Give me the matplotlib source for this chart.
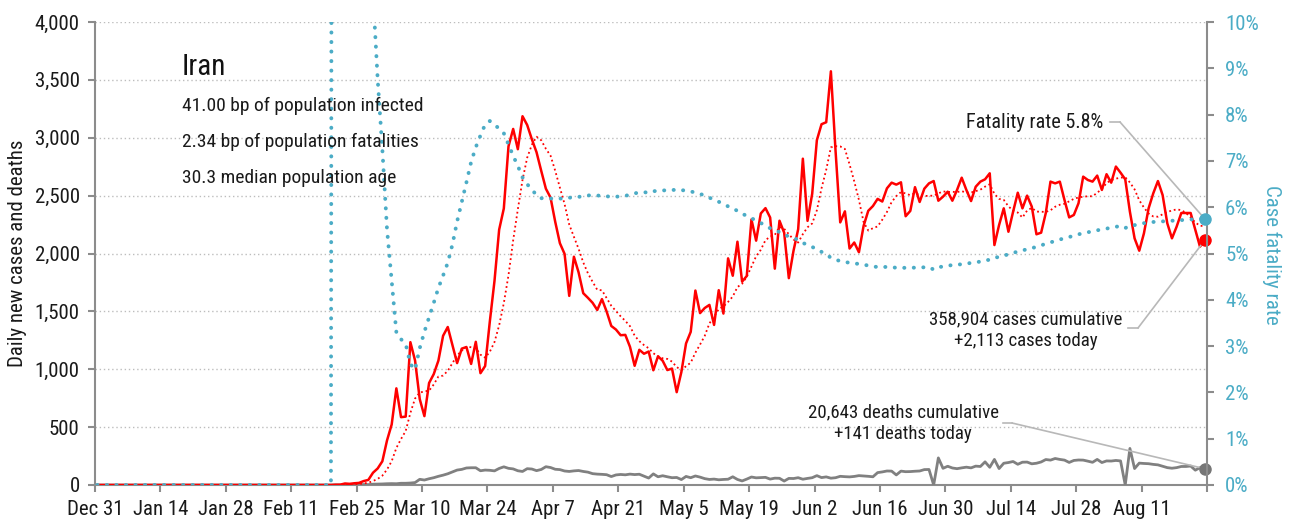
import numpy as np
import pandas as pd
import matplotlib
matplotlib.use('Agg')
import matplotlib.pyplot as plt
from matplotlib import font_manager
from matplotlib.lines import Line2D

# prefer a narrow sans; otherwise use Liberation Sans a little smaller
installed = {(f.name, f.stretch) for f in font_manager.fontManager.ttflist}
names = {n for n, _ in installed}
FONT, SCALE, STRETCH = 'Liberation Sans', 0.84, 'normal'
for cand in ['Roboto Condensed', 'Liberation Sans Narrow', 'Open Sans Condensed']:
    if cand in names:
        FONT, SCALE = cand, 1.0
        break
else:
    for n, st in installed:
        if n in ('DejaVu Sans', 'Noto Sans', 'Open Sans') and st in ('condensed', 'semi-condensed', 75, 87):
            FONT, SCALE, STRETCH = n, 0.97, st
            break
plt.rcParams['font.family'] = [FONT, 'DejaVu Sans']
plt.rcParams['font.stretch'] = STRETCH

# daily reports for Iran, starting from the first reported case
first_report = '2020-02-20'
last_report = '2020-08-24'

daily_cases = [
    2, 3, 13, 10, 15, 18, 34, 44, 106, 143, 205,
    385, 523, 835, 586, 591, 1234, 1076, 743, 595, 881, 958, 1075, 1289, 1365, 1209,
    1053, 1178, 1192, 1046, 1237, 966, 1028, 1411, 1762, 2206, 2389, 2926, 3076, 2901,
    3186, 3110,
    2987, 2875, 2715, 2560, 2483, 2274, 2089, 1997, 1634, 1972, 1837, 1657, 1617, 1574,
    1512, 1606, 1499, 1374, 1343, 1294, 1297, 1194, 1030, 1168, 1134, 1153, 991, 1112,
    1073, 993,
    1006, 802, 976, 1223, 1323, 1680, 1485, 1529, 1556, 1383, 1683, 1481, 1958, 1808,
    2102, 1757, 1806, 2294, 2111, 2346, 2392, 2311, 1869, 2283, 2180, 1787, 2023, 2210,
    2819, 2282, 2516,
    2979, 3117, 3134, 3574,
    2886, 2269, 2364, 2043, 2095, 2011, 2238, 2369, 2410, 2472,
    2449, 2563, 2612, 2595, 2615, 2322, 2368, 2573, 2445, 2560,
    2606, 2626, 2456, 2491, 2534, 2456, 2549, 2655, 2549, 2453,
    2577, 2621, 2641, 2693, 2073, 2246, 2390, 2188, 2361, 2525,
    2390, 2500, 2405, 2166, 2180, 2350, 2621, 2606, 2621, 2462,
    2312, 2333, 2434, 2664, 2635, 2621, 2673, 2549, 2685, 2612,
    2751, 2698, 2641, 2361, 2131, 2024, 2174, 2390, 2520, 2626,
    2505, 2261, 2131, 2232, 2350, 2350, 2350, 2203, 2059, 2113,
]

daily_deaths = [
    2, 0, 2, 1, 3, 4, 4, 3, 7, 8, 9,
    11, 12, 11, 15, 15, 17, 21, 49, 43, 54, 63, 75, 85, 97, 113,
    129, 135, 147, 149, 149, 123, 129, 127, 122, 143, 157, 144, 139, 123,
    117, 141,
    138, 124, 134, 158, 151, 136, 133, 121, 117, 122, 125, 117, 111, 98,
    94, 92, 89, 73, 87, 91, 88, 94, 90, 93, 76, 60, 96, 71,
    80, 71,
    63, 65, 47, 74, 63, 78, 68, 55, 48, 51, 45, 48, 50, 71,
    48, 35, 51, 69, 62, 64, 66, 51, 59, 58, 34, 57, 56, 63,
    50, 57, 63,
    81, 64, 70, 59,
    63, 75, 72, 70, 74, 81, 78, 75, 71,
    107, 113, 121, 120, 87, 120, 115, 116, 119, 121,
    133, 134, 0, 234, 144, 162, 147, 141, 148, 154,
    148, 163, 160, 200, 153, 221, 142, 188, 194, 203,
    179, 197, 198, 183, 188, 199, 220, 215, 229, 221,
    215, 195, 212, 216, 215, 206, 196, 221, 194, 208,
    207, 212, 208, 0, 316, 142, 189, 186, 184, 178,
    174, 162, 150, 145, 150, 160, 160, 164, 128, 150, 141,
]

country = 'Iran'
stats_lines = [
    '41.00 bp of population infected',
    '2.34 bp of population fatalities',
    '30.3 median population age',
]
total_cases = 358904
total_deaths = 20643

tick_labels = ['Dec 31', 'Jan 14', 'Jan 28', 'Feb 11', 'Feb 25', 'Mar 10', 'Mar 24',
               'Apr 7', 'Apr 21', 'May 5', 'May 19', 'Jun 2', 'Jun 16', 'Jun 30',
               'Jul 14', 'Jul 28', 'Aug 11']

CASE_RED = '#ff0000'
DEATH_GREY = '#808080'
CFR_BLUE = '#4bacc6'
AXIS_GREY = '#8c8c8c'
LEADER = '#b8b8b8'
TEXT = '#1a1a1a'

dates = pd.date_range('2019-12-31', last_report)
cases = pd.Series(daily_cases, index=pd.date_range(first_report, last_report)).reindex(dates, fill_value=0)
deaths = pd.Series(daily_deaths, index=pd.date_range(first_report, last_report)).reindex(dates, fill_value=0)

cases_avg = cases.rolling(7, min_periods=1).mean()
cum_cases = cases.cumsum()
cum_deaths = deaths.cumsum()
cfr = (cum_deaths / cum_cases.where(cum_cases > 0)).fillna(0)

# each daily value sits in the middle of its day
x = dates + pd.Timedelta(hours=12)

W, H = 1293, 525
fig = plt.figure(figsize=(W / 100, H / 100), dpi=100)
ax = fig.add_axes([95 / W, 40 / H, 1112 / W, 463 / H])
ax2 = ax.twinx()

ax.set_xlim(dates[0], dates[-1] + pd.Timedelta(days=1))
ax.set_ylim(0, 4000)
ax2.set_ylim(0, 0.10)

ax.plot(x, deaths, color=DEATH_GREY, lw=2, zorder=3)
ax.plot(x, cases_avg, color=CASE_RED, lw=1.3, linestyle=(0, (1, 1.6)), zorder=3)
ax.plot(x, cases, color=CASE_RED, lw=1.8, zorder=4)
ax2.plot(x, cfr, color=CFR_BLUE, lw=2.8, linestyle=(0, (0.05, 2.4)),
         dash_capstyle='round', zorder=3)

ax.plot(x[-1], cases.iloc[-1], 'o', color=CASE_RED, ms=8, zorder=6, clip_on=False)
ax.plot(x[-1], deaths.iloc[-1], 'o', color='#767676', ms=8, zorder=6, clip_on=False)
ax2.plot(x[-1], cfr.iloc[-1], 'o', color=CFR_BLUE, ms=8, zorder=6, clip_on=False)

# axes styling
ax.set_yticks(np.arange(0, 4001, 500))
ax.yaxis.set_major_formatter(matplotlib.ticker.StrMethodFormatter('{x:,.0f}'))
ax.yaxis.grid(True, linestyle=(0, (1, 2)), color='#bdbdbd', lw=1)
ax.set_axisbelow(True)

tick_dates = pd.date_range('2019-12-31', periods=len(tick_labels), freq='14D')
ax.set_xticks(tick_dates)
ax.set_xticklabels(tick_labels)
ax.set_xticks([dates[-1] + pd.Timedelta(days=1)], minor=True)

ax2.set_yticks(np.arange(0, 0.101, 0.01))
ax2.yaxis.set_major_formatter(matplotlib.ticker.PercentFormatter(1.0, decimals=0))

for a in (ax, ax2):
    a.spines['top'].set_visible(False)
    for s in a.spines.values():
        s.set_color(AXIS_GREY)
        s.set_linewidth(1.5)
ax.spines['right'].set_visible(False)
ax2.spines['left'].set_visible(False)
ax2.spines['bottom'].set_visible(False)

tick_size = 15 * SCALE
ax.tick_params(axis='y', colors=AXIS_GREY, labelcolor=TEXT, labelsize=tick_size,
               length=5, width=1.5, pad=6)
ax.tick_params(axis='x', which='both', colors=AXIS_GREY, labelcolor=TEXT,
               labelsize=tick_size, length=5, width=1.5, pad=6)
ax2.tick_params(axis='y', colors=AXIS_GREY, labelcolor=CFR_BLUE, labelsize=tick_size,
                length=5, width=1.5, pad=8)

fig.text(18 / W, 1 - 253 / H, 'Daily new cases and deaths', rotation=90,
         ha='center', va='center', fontsize=tick_size, color=TEXT)
fig.text(1272 / W, 1 - 255 / H, 'Case fatality rate', rotation=270,
         ha='center', va='center', fontsize=tick_size, color=CFR_BLUE)

# country summary
fig.text(182 / W, 1 - 67 / H, country, fontsize=21 * SCALE, ha='left', va='center', color='#111111')
for i, line in enumerate(stats_lines):
    fig.text(182 / W, 1 - (106 + 36 * i) / H, line, fontsize=14 * SCALE, ha='left',
             va='center', color=TEXT)


def leader(axis, y_value, text_end, knee):
    """Thin grey leader from the end of a label to the final point of a series."""
    y_px = H - text_end[1]
    fig.add_artist(Line2D([text_end[0] / W, knee / W], [y_px / H, y_px / H],
                          color=LEADER, lw=1.2))
    axis.annotate('', xy=(x[-1], y_value), xycoords='data',
                  xytext=(knee, y_px), textcoords='figure pixels',
                  arrowprops=dict(arrowstyle='-', color=LEADER, lw=1.2,
                                  shrinkA=0, shrinkB=0), zorder=5)


note_size = 13.6 * SCALE
fig.text(1103 / W, 1 - 122 / H, f'Fatality rate {total_deaths / total_cases * 100:.1f}%',
         fontsize=14.6 * SCALE, ha='right', va='center', color=TEXT)
leader(ax2, cfr.iloc[-1], (1110, 122), 1120)

fig.text(1026 / W, 1 - 330 / H,
         f'{total_cases:,} cases cumulative\n+{cases.iloc[-1]:,} cases today',
         fontsize=note_size, ha='center', va='center', linespacing=1.25, color=TEXT)
leader(ax, cases.iloc[-1], (1128, 328), 1138)

fig.text(903 / W, 1 - 423 / H,
         f'{total_deaths:,} deaths cumulative\n+{deaths.iloc[-1]:,} deaths today',
         fontsize=note_size, ha='center', va='center', linespacing=1.25, color=TEXT)
leader(ax, deaths.iloc[-1], (1003, 423), 1012)

fig.savefig('out.png', dpi=100)
